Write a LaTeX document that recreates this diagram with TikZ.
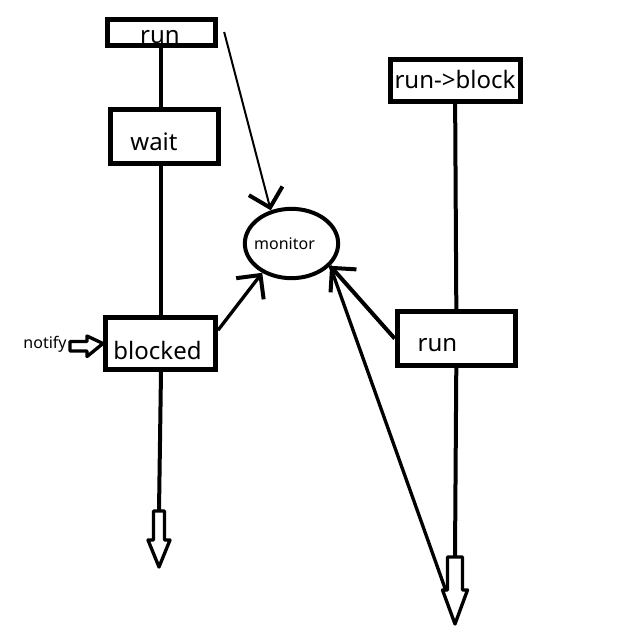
\documentclass[tikz,border=0pt]{standalone}
\usepackage{fontspec}
\setmainfont{Noto Sans}
\usetikzlibrary{arrows.meta, positioning, shapes.geometric}

\begin{document}
\begin{tikzpicture}[x=0.75pt, y=-0.75pt, line width=3pt,
    state/.style={draw, rectangle, line width=3.75pt, inner sep=0pt},
    txt/.style={font=\fontsize{18}{20}\selectfont, inner sep=0pt},
    hollow/.style={draw, line width=2.5pt, line join=round, fill=white},
    barb/.style={-{Straight Barb[length=13pt, width=26pt, line width=3pt]}}]
    \useasboundingbox (0,0) rectangle (627,644);

    % left thread
    \node[state, minimum width=81pt, minimum height=19.5pt,
          label={[txt, xshift=-0.75pt, yshift=-3.75pt]center:run}] (runA) at (161,32) {};
    \node[state, minimum width=81pt, minimum height=41pt,
          label={[txt, xshift=-7.5pt, yshift=-3.75pt]center:wait}] (wait) at (164,136.5) {};
    \node[state, minimum width=82.5pt, minimum height=39pt,
          label={[txt, xshift=-2.25pt, yshift=-5.25pt]center:blocked}] (blocked) at (160.5,343.5) {};
    \node[font=\fontsize{12}{14}\selectfont] (notify) at (45,344) {notify};

    % monitor
    \node[draw, ellipse, line width=3pt, inner sep=0pt, minimum width=70pt, minimum height=52pt,
          label={[font=\fontsize{12}{14}\selectfont, xshift=-5.25pt]center:monitor}] (monitor) at (291.5,243.5) {};

    % right thread
    \node[state, minimum width=97.5pt, minimum height=31.5pt,
          label={[txt, yshift=0.75pt]center:run->block}] (runblock) at (455,80) {};
    \node[state, minimum width=89pt, minimum height=40pt,
          label={[txt, xshift=-14.25pt, yshift=-5.25pt]center:run}] (runB) at (456.5,338.5) {};

    \coordinate (outL) at (159,511);
    \coordinate (outR) at (455,557);
    \coordinate (outRneck) at (446,591);

    % vertical lines
    \draw (runA.south) -- (runA.south |- wait.north);
    \draw (runA.south |- wait.south) -- (runA.south |- blocked.north);
    \draw (runA.south |- blocked.south) -- (outL);
    \draw (runblock) -- (runB);
    \draw (runB) -- (outR);

    % hollow arrows
    \draw[hollow] (outL) ++(-5.5,0) -- ++(0,29) -- ++(-5.5,0) -- (159,567) -- (170,540) -- (164.5,540) -- (164.5,511) -- cycle;
    \draw[hollow] (outR) ++(-7.5,0) -- ++(0,33) -- ++(-5,0) -- (455,624) -- (467.5,590) -- (462.5,590) -- (462.5,557) -- cycle;
    \draw[hollow] (70,341.5) -- (87,341.5) -- (87,336) -- (blocked.west) -- (87,356.5) -- (87,351) -- (70,351) -- cycle;

    % arrows into the monitor
    \draw[barb, line width=1.5pt] ([xshift=5pt]runA.east) -- (monitor.122);
    \draw[barb, line width=2.5pt] (blocked.13) -- (monitor.225);
    \draw[line width=2.5pt] (outRneck) -- (monitor.-30);
    \draw[barb] (runB.west) -- (monitor.-30);
\end{tikzpicture}
\end{document}
